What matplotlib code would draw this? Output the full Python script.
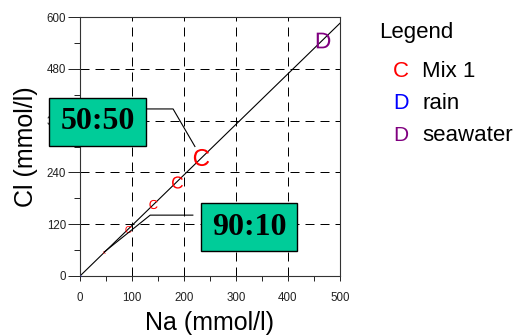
import matplotlib
matplotlib.use("Agg")
import matplotlib.pyplot as plt
from matplotlib.patches import Rectangle
from matplotlib.ticker import MultipleLocator

plt.rcParams['font.family'] = ['Liberation Sans', 'DejaVu Sans']
plt.rcParams['mathtext.fontset'] = 'custom'
plt.rcParams['mathtext.sf'] = 'Liberation Sans'
plt.rcParams['mathtext.rm'] = 'Liberation Sans'

# ---- data ----
mix_na = [47, 92, 140, 186, 233]
mix_cl = [56, 110, 166, 218, 276]
rain_na = [0]
rain_cl = [0]
sea_na = [467]
sea_cl = [547]
x_ticks = [0, 100, 200, 300, 400, 500]
y_ticks = [0, 120, 240, 360, 480, 600]
legend_labels = ["Mix 1", "rain", "seawater"]
legend_symbols = ["C", "D", "D"]
box_labels = ["50:50", "90:10"]

# ---- styles ----
mix_sizes = [2.2, 5.0, 6.6, 8.8, 12.3]
red, blue, purple = '#FF0000', '#0000FF', '#800080'
box_fc = '#00CC99'

W, H = 521, 336
fig = plt.figure(figsize=(W / 100, H / 100), dpi=100)
ax = fig.add_axes([80 / W, (H - 276) / H, 260 / W, 259 / H])
ax.set_xlim(0, 500)
ax.set_ylim(0, 600)

ax.xaxis.set_major_locator(MultipleLocator(100))
ax.xaxis.set_minor_locator(MultipleLocator(50))
ax.yaxis.set_major_locator(MultipleLocator(120))
ax.yaxis.set_minor_locator(MultipleLocator(60))
ax.set_xticks(x_ticks)
ax.set_yticks(y_ticks)
ax.tick_params(axis='y', which='major', length=8.6, width=0.7, pad=1.5,
               labelsize=8.3, colors='#222222')
ax.tick_params(axis='y', which='minor', length=4.3, width=0.7, color='#222222')
ax.tick_params(axis='x', which='major', length=3.6, width=0.7, pad=8,
               labelsize=8.3, colors='#222222')
ax.tick_params(axis='x', which='minor', length=3.6, width=0.7, color='#222222')
for sp in ax.spines.values():
    sp.set_linewidth(0.8)
    sp.set_color('#333333')

# grid
for gx in x_ticks[1:-1]:
    ax.axvline(gx, color='black', lw=0.72, ls=(0, (9, 6)), zorder=1)
for gy in y_ticks[1:-1]:
    ax.axhline(gy, color='black', lw=0.72, ls=(0, (9, 6)), zorder=1)

# mixing line from rain through seawater
slope = sea_cl[0] / sea_na[0]
ax.plot([rain_na[0], 500], [rain_cl[0], 500 * slope], color='black', lw=0.8,
        zorder=2)

# points
for xv, yv, s in zip(mix_na, mix_cl, mix_sizes):
    ax.plot(xv, yv, ls='none', marker=r'$\mathsf{C}$', ms=s, color=red,
            mew=0, zorder=3)
ax.plot(rain_na, rain_cl, ls='none', marker=r'$\mathsf{D}$', ms=1.6,
        color=blue, mew=0, zorder=3)
ax.plot(sea_na, sea_cl, ls='none', marker=r'$\mathsf{D}$', ms=11.3,
        color=purple, mew=0, zorder=3)

ax.set_xlabel("Na (mmol/l)", fontsize=18, labelpad=5)
ax.set_ylabel("Cl (mmol/l)", fontsize=18, labelpad=6)

# annotation boxes with pointer lines
ax.plot([127, 179, 221], [387, 387, 300], color='black', lw=0.8,
        clip_on=False, zorder=4)
ax.plot([217, 135, mix_na[0]], [141, 141, mix_cl[0]], color='black', lw=0.8,
        clip_on=False, zorder=4)

r1 = Rectangle((-59, 301), 186, 112, facecolor=box_fc, edgecolor='black',
               lw=1.0, clip_on=False, zorder=5)
r2 = Rectangle((233, 58), 184, 110, facecolor=box_fc, edgecolor='black',
               lw=1.0, clip_on=False, zorder=5)
ax.add_patch(r1)
ax.add_patch(r2)
ax.text(34, 357, box_labels[0], ha='center', va='center', fontsize=23,
        fontweight='bold', family='Liberation Serif', zorder=6, clip_on=False)
ax.text(325, 113, box_labels[1], ha='center', va='center', fontsize=23,
        fontweight='bold', family='Liberation Serif', zorder=6, clip_on=False)

# legend
fig.text(379 / W, 1 - 38 / H, "Legend", fontsize=16, va='baseline', ha='left')
leg_colors = [red, blue, purple]
leg_base = [77, 109, 141]
leg_sizes = [16, 15.5, 15]
for sym, lab, c, b, fs in zip(legend_symbols, legend_labels, leg_colors,
                              leg_base, leg_sizes):
    fig.text(401 / W, 1 - b / H, sym, color=c, fontsize=fs, va='baseline',
             ha='center')
    fig.text(422 / W, 1 - b / H, lab, color='black', fontsize=16,
             va='baseline', ha='left')

fig.savefig("out.png", dpi=100)
